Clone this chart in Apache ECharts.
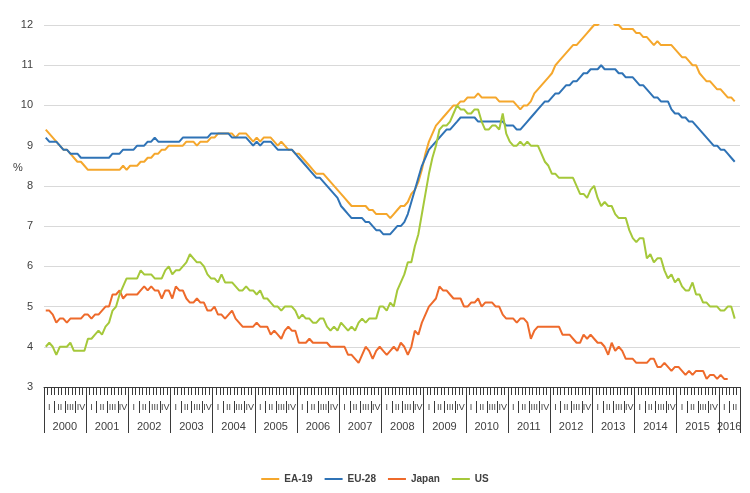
<!DOCTYPE html>
<html>
<head>
<meta charset="utf-8">
<title>Unemployment rates EA-19, EU-28, Japan, US</title>
<script src="https://cdn.jsdelivr.net/npm/echarts@6/dist/echarts.min.js"></script>
<style>
  html, body { margin: 0; padding: 0; background: #ffffff; }
  #chart { width: 750px; height: 493px; }
</style>
</head>
<body>
<div id="chart"></div>
<script>
// axis labels
const years = ['2000', '2001', '2002', '2003', '2004', '2005', '2006', '2007', '2008',
               '2009', '2010', '2011', '2012', '2013', '2014', '2015', '2016'];
const monthsInLastYear = 6;   // 2016 only runs Jan-Jun on the axis
const quarterLabels = ['I', 'II', 'III', 'IV'];
const seriesNames = ['EA-19', 'EU-28', 'Japan', 'US'];

// monthly unemployment rates, %, from Jan 2000
const ea19 = [
  9.4, 9.3, 9.2, 9.1, 9.0, 8.9, 8.9, 8.8, 8.7, 8.6, 8.6, 8.5,
  8.4, 8.4, 8.4, 8.4, 8.4, 8.4, 8.4, 8.4, 8.4, 8.4, 8.5, 8.4,
  8.5, 8.5, 8.5, 8.6, 8.6, 8.7, 8.7, 8.8, 8.8, 8.9, 8.9, 9.0,
  9.0, 9.0, 9.0, 9.0, 9.1, 9.1, 9.1, 9.0, 9.1, 9.1, 9.1, 9.2,
  9.2, 9.3, 9.3, 9.3, 9.3, 9.3, 9.2, 9.3, 9.3, 9.3, 9.2, 9.1,
  9.2, 9.1, 9.2, 9.2, 9.2, 9.1, 9.0, 9.1, 9.0, 8.9, 8.9, 8.8,
  8.8, 8.7, 8.6, 8.5, 8.4, 8.3, 8.3, 8.3, 8.2, 8.1, 8.0, 7.9,
  7.8, 7.7, 7.6, 7.5, 7.5, 7.5, 7.5, 7.5, 7.4, 7.4, 7.3, 7.3,
  7.3, 7.3, 7.2, 7.3, 7.4, 7.5, 7.5, 7.6, 7.8, 7.9, 8.1, 8.4,
  8.8, 9.1, 9.3, 9.5, 9.6, 9.7, 9.8, 9.9, 10.0, 10.0, 10.1, 10.1,
  10.2, 10.2, 10.2, 10.3, 10.2, 10.2, 10.2, 10.2, 10.2, 10.1, 10.1, 10.1,
  10.1, 10.1, 10.0, 9.9, 10.0, 10.0, 10.1, 10.3, 10.4, 10.5, 10.6, 10.7,
  10.8, 11.0, 11.1, 11.2, 11.3, 11.4, 11.5, 11.5, 11.6, 11.7, 11.8, 11.9,
  12.0, 12.0, 12.1, 12.1, 12.1, 12.1, 12.0, 12.0, 11.9, 11.9, 11.9, 11.9,
  11.8, 11.8, 11.7, 11.7, 11.6, 11.5, 11.6, 11.5, 11.5, 11.5, 11.5, 11.4,
  11.3, 11.2, 11.2, 11.1, 11.0, 11.0, 10.8, 10.7, 10.6, 10.6, 10.5, 10.4,
  10.4, 10.3, 10.2, 10.2, 10.1
];
const eu28 = [
  9.2, 9.1, 9.1, 9.1, 9.0, 8.9, 8.9, 8.8, 8.8, 8.8, 8.7, 8.7,
  8.7, 8.7, 8.7, 8.7, 8.7, 8.7, 8.7, 8.8, 8.8, 8.8, 8.9, 8.9,
  8.9, 8.9, 9.0, 9.0, 9.0, 9.1, 9.1, 9.2, 9.1, 9.1, 9.1, 9.1,
  9.1, 9.1, 9.1, 9.2, 9.2, 9.2, 9.2, 9.2, 9.2, 9.2, 9.2, 9.3,
  9.3, 9.3, 9.3, 9.3, 9.3, 9.2, 9.2, 9.2, 9.2, 9.2, 9.1, 9.0,
  9.1, 9.0, 9.1, 9.1, 9.1, 9.0, 8.9, 8.9, 8.9, 8.9, 8.9, 8.8,
  8.7, 8.6, 8.5, 8.4, 8.3, 8.2, 8.2, 8.1, 8.0, 7.9, 7.8, 7.7,
  7.5, 7.4, 7.3, 7.2, 7.2, 7.2, 7.2, 7.1, 7.1, 7.0, 6.9, 6.9,
  6.8, 6.8, 6.8, 6.9, 7.0, 7.0, 7.1, 7.3, 7.6, 7.9, 8.2, 8.5,
  8.7, 8.9, 9.0, 9.1, 9.2, 9.3, 9.4, 9.4, 9.5, 9.6, 9.7, 9.7,
  9.7, 9.7, 9.7, 9.6, 9.6, 9.6, 9.6, 9.6, 9.6, 9.6, 9.6, 9.5,
  9.5, 9.5, 9.4, 9.4, 9.5, 9.6, 9.7, 9.8, 9.9, 10.0, 10.1, 10.1,
  10.2, 10.3, 10.3, 10.4, 10.5, 10.5, 10.6, 10.6, 10.7, 10.8, 10.8, 10.9,
  10.9, 10.9, 11.0, 10.9, 10.9, 10.9, 10.9, 10.8, 10.8, 10.7, 10.7, 10.7,
  10.6, 10.5, 10.5, 10.4, 10.3, 10.2, 10.2, 10.1, 10.1, 10.1, 9.9, 9.8,
  9.8, 9.7, 9.7, 9.6, 9.6, 9.5, 9.4, 9.3, 9.2, 9.1, 9.0, 9.0,
  8.9, 8.9, 8.8, 8.7, 8.6
];
const japan = [
  4.9, 4.9, 4.8, 4.6, 4.7, 4.7, 4.6, 4.7, 4.7, 4.7, 4.7, 4.8,
  4.8, 4.7, 4.8, 4.8, 4.9, 5.0, 5.0, 5.3, 5.3, 5.4, 5.2, 5.3,
  5.3, 5.3, 5.3, 5.4, 5.5, 5.4, 5.5, 5.4, 5.4, 5.2, 5.4, 5.4,
  5.2, 5.5, 5.4, 5.4, 5.2, 5.1, 5.1, 5.2, 5.1, 5.1, 4.9, 4.9,
  5.0, 4.8, 4.8, 4.7, 4.8, 4.9, 4.7, 4.6, 4.5, 4.5, 4.5, 4.5,
  4.6, 4.5, 4.5, 4.5, 4.3, 4.4, 4.3, 4.2, 4.4, 4.5, 4.4, 4.4,
  4.1, 4.1, 4.1, 4.2, 4.1, 4.1, 4.1, 4.1, 4.1, 4.0, 4.0, 4.0,
  4.0, 4.0, 3.8, 3.8, 3.7, 3.6, 3.8, 4.0, 3.9, 3.7, 3.9, 4.0,
  3.9, 3.8, 3.9, 4.0, 3.9, 4.1, 4.0, 3.8, 4.0, 4.4, 4.3, 4.6,
  4.8, 5.0, 5.1, 5.2, 5.5, 5.4, 5.4, 5.3, 5.2, 5.2, 5.2, 5.0,
  5.0, 5.1, 5.1, 5.2, 5.0, 5.1, 5.1, 5.1, 5.0, 5.0, 4.8, 4.7,
  4.7, 4.7, 4.6, 4.7, 4.7, 4.6, 4.2, 4.4, 4.5, 4.5, 4.5, 4.5,
  4.5, 4.5, 4.5, 4.3, 4.3, 4.3, 4.2, 4.1, 4.1, 4.3, 4.2, 4.3,
  4.2, 4.1, 4.1, 4.0, 3.8, 4.1, 3.9, 4.0, 3.9, 3.7, 3.7, 3.7,
  3.6, 3.6, 3.6, 3.6, 3.7, 3.7, 3.5, 3.5, 3.6, 3.5, 3.4, 3.5,
  3.5, 3.4, 3.3, 3.4, 3.3, 3.4, 3.4, 3.4, 3.2, 3.3, 3.3, 3.2,
  3.3, 3.2, 3.2
];
const us = [
  4.0, 4.1, 4.0, 3.8, 4.0, 4.0, 4.0, 4.1, 3.9, 3.9, 3.9, 3.9,
  4.2, 4.2, 4.3, 4.4, 4.3, 4.5, 4.6, 4.9, 5.0, 5.3, 5.5, 5.7,
  5.7, 5.7, 5.7, 5.9, 5.8, 5.8, 5.8, 5.7, 5.7, 5.7, 5.9, 6.0,
  5.8, 5.9, 5.9, 6.0, 6.1, 6.3, 6.2, 6.1, 6.1, 6.0, 5.8, 5.7,
  5.7, 5.6, 5.8, 5.6, 5.6, 5.6, 5.5, 5.4, 5.4, 5.5, 5.4, 5.4,
  5.3, 5.4, 5.2, 5.2, 5.1, 5.0, 5.0, 4.9, 5.0, 5.0, 5.0, 4.9,
  4.7, 4.8, 4.7, 4.7, 4.6, 4.6, 4.7, 4.7, 4.5, 4.4, 4.5, 4.4,
  4.6, 4.5, 4.4, 4.5, 4.4, 4.6, 4.7, 4.6, 4.7, 4.7, 4.7, 5.0,
  5.0, 4.9, 5.1, 5.0, 5.4, 5.6, 5.8, 6.1, 6.1, 6.5, 6.8, 7.3,
  7.8, 8.3, 8.7, 9.0, 9.4, 9.5, 9.5, 9.6, 9.8, 10.0, 9.9, 9.9,
  9.8, 9.8, 9.9, 9.9, 9.6, 9.4, 9.4, 9.5, 9.5, 9.4, 9.8, 9.3,
  9.1, 9.0, 9.0, 9.1, 9.0, 9.1, 9.0, 9.0, 9.0, 8.8, 8.6, 8.5,
  8.3, 8.3, 8.2, 8.2, 8.2, 8.2, 8.2, 8.0, 7.8, 7.8, 7.7, 7.9,
  8.0, 7.7, 7.5, 7.6, 7.5, 7.5, 7.3, 7.2, 7.2, 7.2, 6.9, 6.7,
  6.6, 6.7, 6.7, 6.2, 6.3, 6.1, 6.2, 6.2, 5.9, 5.7, 5.8, 5.6,
  5.7, 5.5, 5.4, 5.4, 5.6, 5.3, 5.3, 5.1, 5.1, 5.0, 5.0, 5.0,
  4.9, 4.9, 5.0, 5.0, 4.7
];

const COLORS = ['#F5A72C', '#2F73B6', '#EE6A2B', '#A5C83A'];
const TEXT_COLOR = '#404040';
const LINE_COLOR = '#3a3a3a';

// one category per month, e.g. "2003-07"
const months = [];
const yearLabelIndex = {};
years.forEach(function (y, k) {
    const n = (k === years.length - 1) ? monthsInLastYear : 12;
    yearLabelIndex[months.length + Math.floor((n - 1) / 2)] = y;
    for (let m = 1; m <= n; m++) {
        months.push(y + '-' + String(m).padStart(2, '0'));
    }
});

const chart = echarts.init(document.getElementById('chart'), null, { renderer: 'canvas' });

const option = {
    animation: false,
    backgroundColor: '#ffffff',
    color: COLORS,
    textStyle: { fontFamily: 'Liberation Sans, Arial, sans-serif' },
    title: {
        text: '%',
        left: 8,
        top: 157,
        textStyle: { fontSize: 11, fontWeight: 'normal', color: TEXT_COLOR }
    },
    grid: { left: 44, right: 10, top: 25, bottom: 106, containLabel: false },
    legend: {
        data: seriesNames,
        bottom: 4,
        left: 'center',
        icon: 'rect',
        itemWidth: 18,
        itemHeight: 2,
        itemGap: 12,
        textStyle: { fontSize: 10, fontWeight: 'bold', color: TEXT_COLOR }
    },
    xAxis: [
        {   // month ticks
            type: 'category',
            data: months,
            boundaryGap: true,
            axisLine: { show: true, lineStyle: { color: LINE_COLOR, width: 1 } },
            axisTick: { show: true, interval: 0, length: 8, lineStyle: { color: LINE_COLOR } },
            axisLabel: { show: false },
            splitLine: { show: false }
        },
        {   // quarters
            type: 'category',
            data: months,
            boundaryGap: true,
            position: 'bottom',
            offset: 14,
            axisLine: { show: false },
            axisTick: {
                show: true,
                interval: function (i) { return i % 3 === 0; },
                length: 12,
                lineStyle: { color: LINE_COLOR }
            },
            axisLabel: {
                interval: function (i) { return i % 3 === 1; },
                formatter: function (v, i) { return quarterLabels[Math.floor((i % 12) / 3)]; },
                fontSize: 9,
                margin: 2,
                color: TEXT_COLOR,
                hideOverlap: false
            },
            splitLine: { show: false }
        },
        {   // years
            type: 'category',
            data: months,
            boundaryGap: true,
            position: 'bottom',
            offset: 0,
            axisLine: { show: false },
            axisTick: {
                show: true,
                interval: function (i) { return i % 12 === 0; },
                length: 46,
                lineStyle: { color: LINE_COLOR }
            },
            axisLabel: {
                interval: function (i) { return yearLabelIndex[i] !== undefined; },
                formatter: function (v, i) { return yearLabelIndex[i] || ''; },
                fontSize: 11,
                margin: 34,
                padding: [0, 0, 0, 3],
                color: TEXT_COLOR,
                hideOverlap: false
            },
            splitLine: { show: false }
        }
    ],
    yAxis: {
        type: 'value',
        min: 3,
        max: 12,
        interval: 1,
        axisLine: { show: false },
        axisTick: { show: false },
        axisLabel: { fontSize: 11, color: TEXT_COLOR, margin: 11 },
        splitLine: { lineStyle: { color: '#d9d9d9', width: 1 } }
    },
    series: [ea19, eu28, japan, us].map(function (values, k) {
        return {
            name: seriesNames[k],
            type: 'line',
            xAxisIndex: 0,
            data: values,
            showSymbol: false,
            symbol: 'none',
            lineStyle: { width: 2, color: COLORS[k] },
            itemStyle: { color: COLORS[k] }
        };
    })
};

chart.setOption(option);
</script>
</body>
</html>
